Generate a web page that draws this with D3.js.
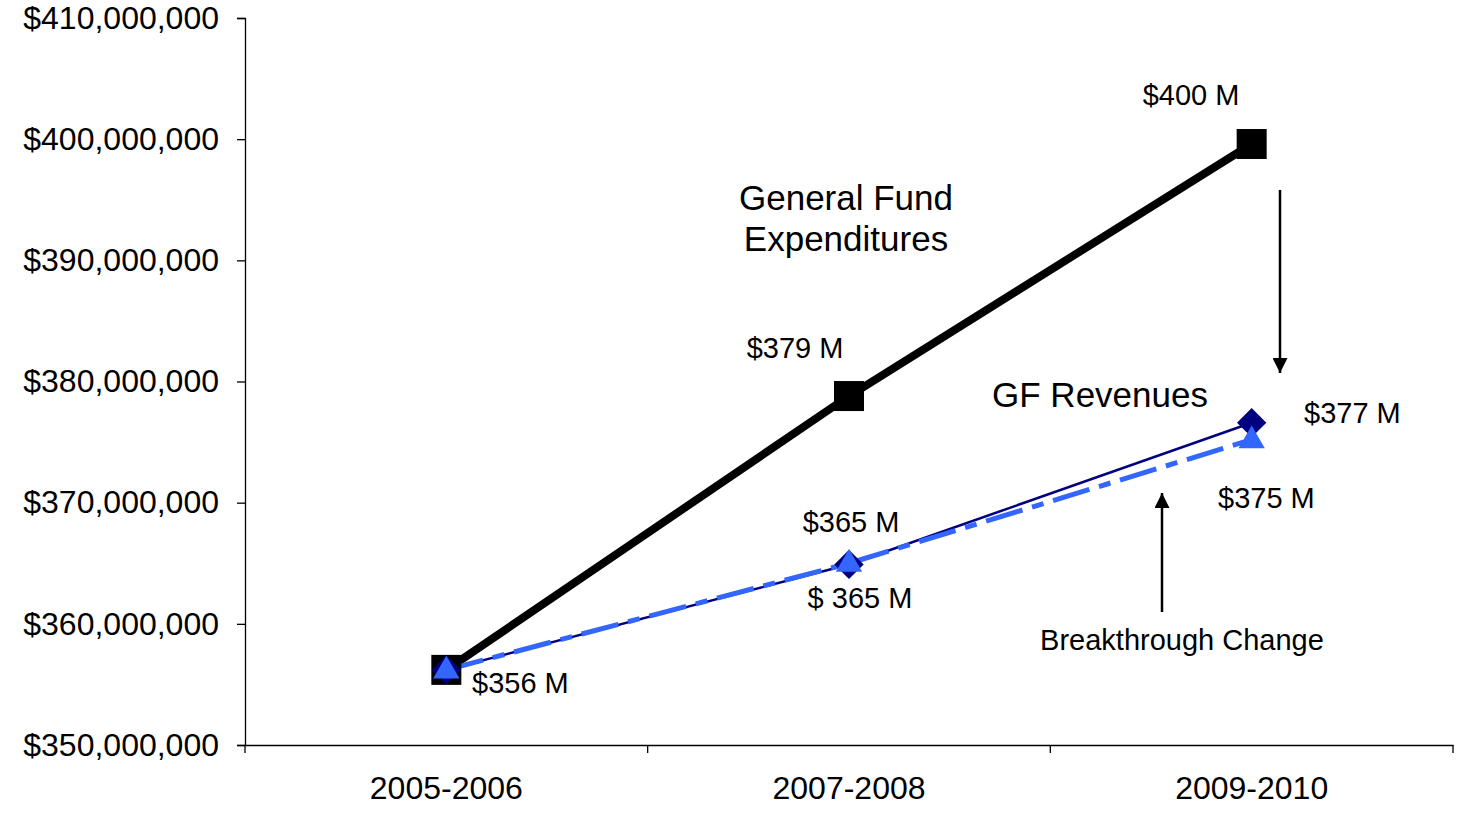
<!DOCTYPE html>
<html>
<head>
<meta charset="utf-8">
<script src="https://cdn.jsdelivr.net/npm/d3@7"></script>
<style>
  body { margin: 0; background: #fff; }
  text { font-family: "Liberation Sans", Arial, sans-serif; fill: #000; }
</style>
</head>
<body>
<svg id="chart" width="1473" height="817"></svg>
<script>
// data
var years = ["2005-2006", "2007-2008", "2009-2010"];
var expenditures = [356.2, 378.8, 399.6];
var revenues = [356.2, 364.9, 376.6];
var breakthrough = [356.2, 365.0, 375.2];
var yTicks = [350, 360, 370, 380, 390, 400, 410];

var svg = d3.select("#chart");

var x = d3.scaleBand().domain(years).range([245, 1453]);
var y = d3.scaleLinear().domain([350, 410]).range([745, 18]);
var cx = function(d, i) { return x(years[i]) + x.bandwidth() / 2; };

// axes
var fmt = function(v) { return "$" + d3.format(",")(v * 1000000); };
var yAxis = svg.append("g").attr("transform", "translate(245,0)")
  .call(d3.axisLeft(y).tickValues(yTicks).tickFormat(fmt).tickSize(8).tickPadding(18));
var xAxis = svg.append("g").attr("transform", "translate(0,745)")
  .call(d3.axisBottom(x).tickSize(0).tickPadding(31));
[yAxis, xAxis].forEach(function(a) {
  a.select(".domain").attr("stroke", "#000").attr("stroke-width", 1.3);
  a.selectAll("line").attr("stroke", "#000").attr("stroke-width", 1.3);
  a.selectAll("text").attr("font-size", 32).attr("fill", "#000")
    .style("font-family", "Liberation Sans, Arial, sans-serif");
});
// category boundary ticks
var bounds = years.map(function(d) { return x(d); }).concat([x.range()[1]]);
svg.append("g").selectAll("line").data(bounds).enter().append("line")
  .attr("x1", function(d) { return d; }).attr("x2", function(d) { return d; })
  .attr("y1", 745).attr("y2", 753).attr("stroke", "#000").attr("stroke-width", 1.3);

var line = d3.line().x(cx).y(function(d) { return y(d); });

// lines
svg.append("path").datum(expenditures).attr("d", line)
  .attr("fill", "none").attr("stroke", "#000").attr("stroke-width", 8);
svg.append("path").datum(revenues).attr("d", line)
  .attr("fill", "none").attr("stroke", "#000080").attr("stroke-width", 2.5);
svg.append("path").datum(breakthrough).attr("d", line)
  .attr("fill", "none").attr("stroke", "#3366ff").attr("stroke-width", 5)
  .attr("stroke-dasharray", "38,10,12,10");

// markers
svg.append("g").selectAll("rect").data(expenditures).enter().append("rect")
  .attr("x", function(d, i) { return cx(d, i) - 15; })
  .attr("y", function(d) { return y(d) - 15; })
  .attr("width", 30).attr("height", 30).attr("fill", "#000");
var diamond = d3.symbol().type(d3.symbolSquare).size(430);
svg.append("g").selectAll("path").data(revenues).enter().append("path")
  .attr("d", diamond)
  .attr("transform", function(d, i) { return "translate(" + cx(d, i) + "," + y(d) + ") rotate(45)"; })
  .attr("fill", "#000080");
var tri = d3.symbol().type(d3.symbolTriangle).size(300);
svg.append("g").selectAll("path").data(breakthrough).enter().append("path")
  .attr("d", tri)
  .attr("transform", function(d, i) { return "translate(" + cx(d, i) + "," + (y(d) + 1) + ")"; })
  .attr("fill", "#3366ff");

// labels
var labels = [
  { t: "$400 M", x: 1191, y: 105, a: "middle", s: 29 },
  { t: "$379 M", x: 795, y: 358, a: "middle", s: 29 },
  { t: "General Fund", x: 846, y: 210, a: "middle", s: 35 },
  { t: "Expenditures", x: 846, y: 251, a: "middle", s: 35 },
  { t: "GF Revenues", x: 1100, y: 407, a: "middle", s: 35 },
  { t: "$377 M", x: 1304, y: 423, a: "start", s: 29 },
  { t: "$375 M", x: 1218, y: 508, a: "start", s: 29 },
  { t: "$365 M", x: 851, y: 532, a: "middle", s: 29 },
  { t: "$ 365 M", x: 860, y: 608, a: "middle", s: 29 },
  { t: "$356 M", x: 472, y: 693, a: "start", s: 29 },
  { t: "Breakthrough Change", x: 1182, y: 650, a: "middle", s: 29 }
];
svg.append("g").selectAll("text").data(labels).enter().append("text")
  .attr("x", function(d) { return d.x; }).attr("y", function(d) { return d.y; })
  .attr("text-anchor", function(d) { return d.a; })
  .attr("font-size", function(d) { return d.s; })
  .text(function(d) { return d.t; });

// arrows
svg.append("defs").append("marker").attr("id", "head")
  .attr("viewBox", "0 0 10 10").attr("refX", 10).attr("refY", 5)
  .attr("markerWidth", 17).attr("markerHeight", 15).attr("markerUnits", "userSpaceOnUse")
  .attr("orient", "auto")
  .append("path").attr("d", "M0,0 L10,5 L0,10 Z").attr("fill", "#000");
svg.append("line").attr("x1", 1280).attr("y1", 190).attr("x2", 1280).attr("y2", 373)
  .attr("stroke", "#000").attr("stroke-width", 2.5).attr("marker-end", "url(#head)");
svg.append("line").attr("x1", 1162).attr("y1", 612).attr("x2", 1162).attr("y2", 493)
  .attr("stroke", "#000").attr("stroke-width", 2.5).attr("marker-end", "url(#head)");
</script>
</body>
</html>
